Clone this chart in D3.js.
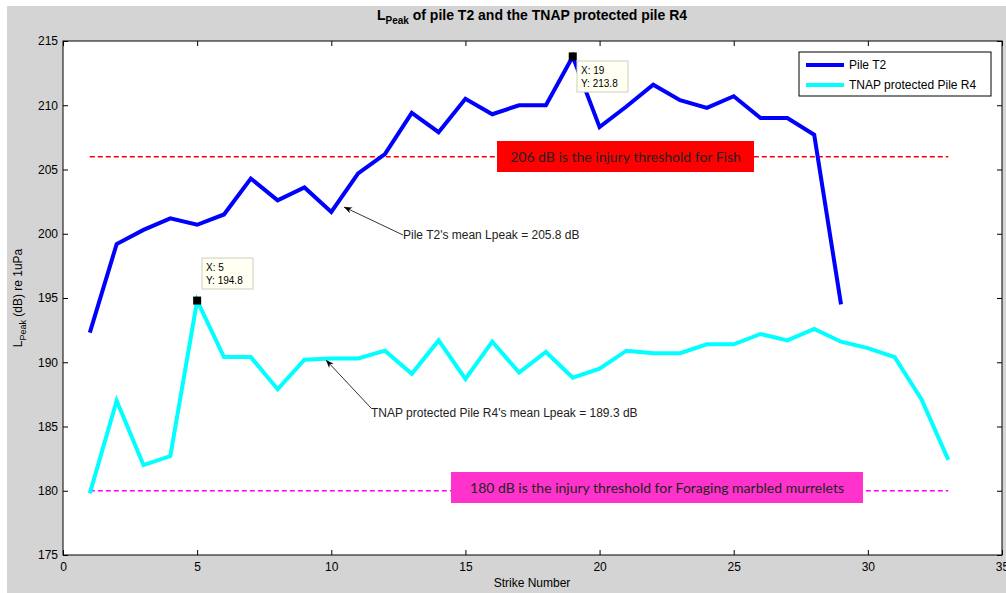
<!DOCTYPE html>
<html>
<head>
<meta charset="utf-8">
<script src="https://cdn.jsdelivr.net/npm/d3@7"></script>
<style>
  body { margin: 0; background: #fff; }
  text { font-family: "Liberation Sans", Arial, sans-serif; }
</style>
</head>
<body>
<svg id="chart"></svg>
<script>
// Data
var strikesT2 = d3.range(1, 30)
var lpeakT2 = [192.3, 199.2, 200.3, 201.2, 200.7, 201.5, 204.3, 202.6, 203.6, 201.7,
  204.7, 206.2, 209.4, 207.9, 210.5, 209.3, 210.0, 210.0, 213.8, 208.3,
  209.9, 211.6, 210.4, 209.8, 210.7, 209.0, 209.0, 207.7, 194.5]
var strikesR4 = d3.range(1, 34)
var lpeakR4 = [179.8, 187.0, 182.0, 182.7, 194.8, 190.4, 190.4, 187.9, 190.2, 190.3,
  190.3, 190.9, 189.1, 191.7, 188.7, 191.6, 189.2, 190.8, 188.8, 189.5,
  190.9, 190.7, 190.7, 191.4, 191.4, 192.2, 191.7, 192.6, 191.6, 191.1,
  190.4, 187.1, 182.4]
var xTicks = [0, 5, 10, 15, 20, 25, 30, 35]
var yTicks = [175, 180, 185, 190, 195, 200, 205, 210, 215]
var thresholds = [206, 180]
var thresholdLabels = ['206 dB is the injury threshold for Fish',
  '180 dB is the injury threshold for Foraging marbled murrelets']
var seriesNames = ['Pile T2', 'TNAP protected Pile R4']
var meanLabels = ["Pile T2's mean Lpeak = 205.8 dB",
  "TNAP protected Pile R4's mean Lpeak = 189.3 dB"]

var width = 1006
var height = 593
var margin = { top: 41, right: 4, bottom: 38, left: 63 }

var svg = d3.select('#chart').attr('width', width).attr('height', height)

// grey figure background
svg.append('rect').attr('x', 7).attr('y', 6)
  .attr('width', width - 7).attr('height', height - 6).attr('fill', '#d4d4d4')

var x = d3.scaleLinear().domain([0, 35]).range([margin.left, width - margin.right])
var y = d3.scaleLinear().domain([175, 215]).range([height - margin.bottom, margin.top])

svg.append('rect')
  .attr('x', x(0)).attr('y', y(215))
  .attr('width', x(35) - x(0)).attr('height', y(175) - y(215))
  .attr('fill', '#fff')

// axes with inward ticks (box style)
var tickStyle = function (g) {
  g.select('.domain').remove()
  g.selectAll('.tick line').attr('stroke', '#000')
  g.selectAll('.tick text').attr('font-size', 12).attr('fill', '#000')
}
svg.append('g').attr('transform', 'translate(0,' + y(175) + ')')
  .call(d3.axisBottom(x).tickValues(xTicks).tickSizeInner(-5).tickSizeOuter(0).tickPadding(7))
  .call(tickStyle)
svg.append('g').attr('transform', 'translate(0,' + y(215) + ')')
  .call(d3.axisTop(x).tickValues(xTicks).tickSizeInner(-5).tickSizeOuter(0).tickFormat(''))
  .call(tickStyle)
svg.append('g').attr('transform', 'translate(' + x(0) + ',0)')
  .call(d3.axisLeft(y).tickValues(yTicks).tickSizeInner(-5).tickSizeOuter(0).tickPadding(5))
  .call(tickStyle)
svg.append('g').attr('transform', 'translate(' + x(35) + ',0)')
  .call(d3.axisRight(y).tickValues(yTicks).tickSizeInner(-5).tickSizeOuter(0).tickFormat(''))
  .call(tickStyle)

svg.append('rect')
  .attr('x', x(0)).attr('y', y(215))
  .attr('width', x(35) - x(0)).attr('height', y(175) - y(215))
  .attr('fill', 'none').attr('stroke', '#000')

// threshold lines
var thrColors = ['#ff0000', '#ff00ff']
thresholds.forEach(function (t, i) {
  svg.append('line')
    .attr('x1', x(1)).attr('x2', x(33)).attr('y1', y(t)).attr('y2', y(t))
    .attr('stroke', thrColors[i]).attr('stroke-width', 1.5)
    .attr('stroke-dasharray', '5,3')
})

// series lines
var line = d3.line().x(function (d) { return x(d[0]) }).y(function (d) { return y(d[1]) })
svg.append('path')
  .datum(d3.zip(strikesR4, lpeakR4))
  .attr('d', line).attr('fill', 'none').attr('stroke', '#00ffff').attr('stroke-width', 4)
svg.append('path')
  .datum(d3.zip(strikesT2, lpeakT2))
  .attr('d', line).attr('fill', 'none').attr('stroke', '#0000ff').attr('stroke-width', 4)

// threshold label boxes
var boxes = [
  { x: 497, y: 141, w: 257, h: 31, fill: '#ff0000', t: thresholdLabels[0] },
  { x: 451, y: 472, w: 412, h: 31, fill: '#ff33cc', t: thresholdLabels[1] }
]
boxes.forEach(function (b) {
  svg.append('rect').attr('x', b.x).attr('y', b.y).attr('width', b.w).attr('height', b.h)
    .attr('fill', b.fill)
  svg.append('text').attr('x', b.x + b.w / 2).attr('y', b.y + b.h / 2 + 5)
    .attr('text-anchor', 'middle').attr('font-size', 14)
    .style('font-family', 'Lato, sans-serif').attr('fill', '#222')
    .text(b.t)
})

// mean annotations with arrows
svg.append('defs').append('marker')
  .attr('id', 'arrow').attr('viewBox', '0 0 10 10').attr('refX', 10).attr('refY', 5)
  .attr('markerWidth', 10).attr('markerHeight', 10).attr('orient', 'auto-start-reverse')
  .append('path').attr('d', 'M0,1 L10,5 L0,9 L3,5 Z').attr('fill', '#000')
var notes = [
  { x1: 403, y1: 235, x2: 344, y2: 207, tx: 403, ty: 239, t: meanLabels[0] },
  { x1: 371, y1: 408, x2: 326, y2: 360, tx: 371, ty: 417, t: meanLabels[1] }
]
notes.forEach(function (n) {
  svg.append('line').attr('x1', n.x1).attr('y1', n.y1).attr('x2', n.x2).attr('y2', n.y2)
    .attr('stroke', '#000').attr('stroke-width', 0.8).attr('marker-end', 'url(#arrow)')
  svg.append('text').attr('x', n.tx).attr('y', n.ty).attr('font-size', 12)
    .attr('fill', '#222').text(n.t)
})

// data tips
var tips = [
  { px: 5, py: 194.8, bx: 202, by: 258 },
  { px: 19, py: 213.8, bx: 577, by: 61 }
]
tips.forEach(function (d) {
  svg.append('rect').attr('x', x(d.px) - 4).attr('y', y(d.py) - 4)
    .attr('width', 8).attr('height', 8).attr('fill', '#000')
  var g = svg.append('g').attr('transform', 'translate(' + d.bx + ',' + d.by + ')')
  g.append('rect').attr('width', 51).attr('height', 31)
    .attr('fill', '#fffff2').attr('stroke', '#cfcfc0')
  g.append('text').attr('x', 4).attr('y', 13).attr('font-size', 10).text('X: ' + d.px)
  g.append('text').attr('x', 4).attr('y', 26).attr('font-size', 10).text('Y: ' + d.py)
})

// legend
var lg = svg.append('g').attr('transform', 'translate(799,52)')
lg.append('rect').attr('width', 192).attr('height', 44).attr('fill', '#fff').attr('stroke', '#000')
var legColors = ['#0000ff', '#00ffff']
seriesNames.forEach(function (s, i) {
  lg.append('line').attr('x1', 7).attr('x2', 45).attr('y1', 13 + i * 20).attr('y2', 13 + i * 20)
    .attr('stroke', legColors[i]).attr('stroke-width', 4)
  lg.append('text').attr('x', 50).attr('y', 17 + i * 20).attr('font-size', 12).text(s)
})

// title and axis labels
var title = svg.append('text').attr('x', 532).attr('y', 20).attr('text-anchor', 'middle')
  .attr('font-size', 14).attr('font-weight', 'bold')
title.append('tspan').text('L')
title.append('tspan').attr('font-size', 10).attr('dy', 4).text('Peak')
title.append('tspan').attr('dy', -4).text(' of pile T2 and the TNAP protected pile R4')

svg.append('text').attr('x', 532).attr('y', 587).attr('text-anchor', 'middle')
  .attr('font-size', 12).text('Strike Number')

var yl = svg.append('text').attr('transform', 'translate(22,298) rotate(-90)')
  .attr('text-anchor', 'middle').attr('font-size', 12)
yl.append('tspan').text('L')
yl.append('tspan').attr('font-size', 9).attr('dy', 4).text('Peak')
yl.append('tspan').attr('dy', -4).text(' (dB) re 1uPa')
</script>
</body>
</html>
